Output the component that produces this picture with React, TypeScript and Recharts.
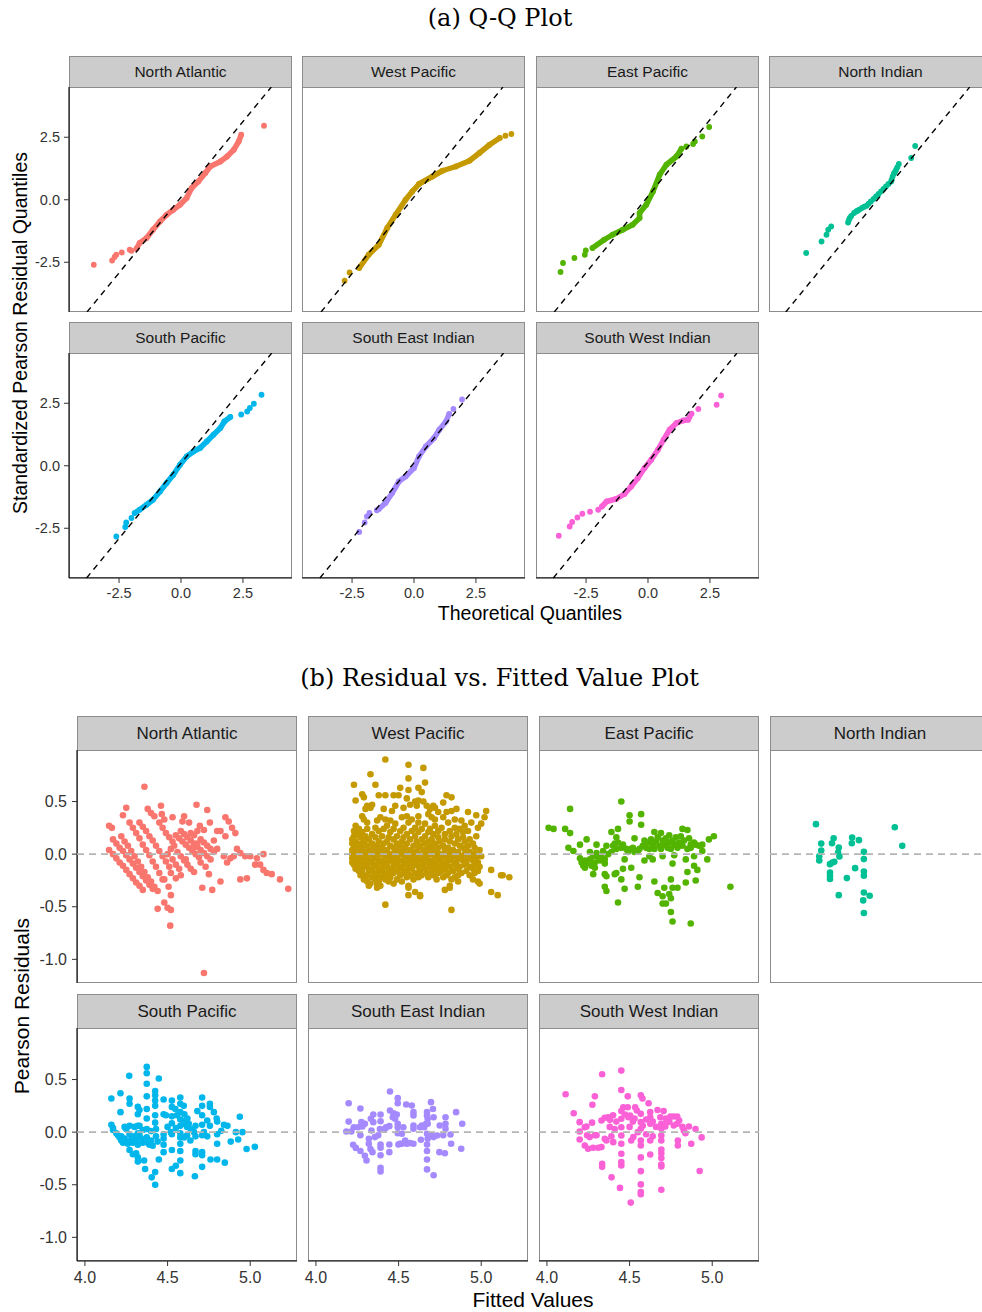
import React from 'react';
import { ScatterChart, Scatter, XAxis, YAxis, ReferenceLine } from 'recharts';

const SANS = '"Liberation Sans", Arial, Helvetica, sans-serif';
const SERIF = '"DejaVu Serif", "Liberation Serif", serif';

const regions = [
  'North Atlantic',
  'West Pacific',
  'East Pacific',
  'North Indian',
  'South Pacific',
  'South East Indian',
  'South West Indian',
];
const regionColors = ['#F8766D', '#C49A00', '#53B400', '#00C094', '#00B6EB', '#A58AFF', '#FB61D7'];

// ---- (a) Q-Q plot ----
const qqTicks = [-2.5, 0, 2.5];
const qqXDomain = [-4.52, 4.48];
const qqYDomain = [-4.49, 4.51];
const qqIntercepts = [0.1, 0.11, 0.14, 0.17, 0.1, 0.12, 0.15];
const qqSlopes = [1.21, 1.226, 1.224, 1.212, 1.204, 1.214, 1.214];

// [theoretical, sample] — the dense middle of each curve, then the loose tail points
const qqNorthAtlanticCore = [[-1.8, -1.96], [-1.67, -1.73], [-1.39, -1.53], [-1.13, -1.2], [-0.85, -0.87], [-0.58, -0.6], [-0.31, -0.4], [-0.04, -0.2], [0.23, 0.07], [0.43, 0.47], [0.7, 0.73], [0.98, 1.07], [1.18, 1.33], [1.59, 1.53], [1.86, 1.73], [2.13, 2.0], [2.33, 2.33], [2.43, 2.6]];
const qqNorthAtlanticTail = [[-3.52, -2.6], [-2.78, -2.43], [-2.68, -2.29], [-2.61, -2.2], [-2.39, -2.11], [-2.07, -2.0], [-2.0, -2.04], [3.35, 2.96]];
const qqWestPacificCore = [[-2.21, -2.73], [-1.83, -2.2], [-1.42, -1.8], [-1.08, -1.13], [-0.74, -0.6], [-0.34, 0.0], [-0.07, 0.33], [0.2, 0.63], [0.74, 0.93], [1.15, 1.16], [1.69, 1.33], [2.24, 1.56], [2.64, 1.87], [3.05, 2.2], [3.46, 2.47]];
const qqWestPacificTail = [[-2.8, -3.24], [-2.6, -2.91], [3.69, 2.56], [3.93, 2.63]];
const qqEastPacificCore = [[-2.24, -1.93], [-1.77, -1.6], [-1.43, -1.4], [-1.02, -1.2], [-0.62, -1.0], [-0.34, -0.73], [-0.34, -0.53], [-0.07, -0.2], [0.2, 0.33], [0.47, 1.0], [0.74, 1.4], [1.15, 1.73], [1.35, 2.04]];
const qqEastPacificTail = [[-3.53, -2.89], [-3.43, -2.53], [-2.97, -2.33], [-2.55, -2.2], [-2.51, -2.03], [1.55, 2.13], [1.82, 2.23], [1.89, 2.33], [2.19, 2.53], [2.47, 2.91]];
const qqNorthIndianCore: number[][] = [];
const qqNorthIndianTail = [[-3.02, -2.13], [-2.4, -1.67], [-2.2, -1.4], [-2.13, -1.2], [-2.01, -1.07], [-1.33, -0.91], [-1.3, -0.82], [-1.26, -0.73], [-1.2, -0.65], [-1.09, -0.53], [-1.0, -0.47], [-0.95, -0.44], [-0.88, -0.4], [-0.77, -0.33], [-0.68, -0.28], [-0.58, -0.24], [-0.5, -0.16], [-0.41, -0.07], [-0.3, 0.03], [-0.2, 0.13], [-0.1, 0.23], [0.0, 0.33], [0.1, 0.43], [0.2, 0.53], [0.3, 0.63], [0.41, 0.73], [0.43, 0.8], [0.47, 0.93], [0.52, 1.05], [0.56, 1.1], [0.61, 1.2], [0.66, 1.3], [0.72, 1.43], [1.22, 1.67], [1.38, 2.15]];
const qqSouthPacificCore = [[-1.87, -1.89], [-1.67, -1.76], [-1.39, -1.56], [-1.13, -1.36], [-0.85, -1.03], [-0.58, -0.69], [-0.31, -0.36], [-0.04, 0.04], [0.23, 0.37], [0.5, 0.57], [0.77, 0.71], [1.04, 0.97], [1.31, 1.24], [1.59, 1.51], [1.75, 1.77], [1.99, 1.95]];
const qqSouthPacificTail = [[-2.61, -2.83], [-2.25, -2.45], [-2.21, -2.27], [-2.0, -2.09], [2.43, 2.05], [2.67, 2.17], [2.78, 2.31], [2.94, 2.48], [3.25, 2.84]];
const qqSouthEastIndianCore = [[-1.5, -1.78], [-1.42, -1.73], [-1.15, -1.49], [-0.88, -1.09], [-0.61, -0.63], [-0.34, -0.43], [0.0, -0.09], [0.2, 0.37], [0.48, 0.77], [0.81, 1.11], [1.02, 1.44], [1.29, 1.77], [1.42, 2.07]];
const qqSouthEastIndianTail = [[-2.21, -2.65], [-1.99, -2.27], [-1.9, -2.03], [-1.8, -1.89], [1.59, 2.27], [1.94, 2.65]];
const qqSouthWestIndianCore = [[-1.86, -1.63], [-1.67, -1.43], [-1.29, -1.33], [-0.95, -1.13], [-0.68, -0.83], [-0.41, -0.49], [-0.14, -0.09], [0.13, 0.24], [0.4, 0.64], [0.63, 1.04], [0.87, 1.44], [1.15, 1.71], [1.42, 1.81], [1.62, 1.84]];
const qqSouthWestIndianTail = [[-3.6, -2.8], [-3.16, -2.43], [-3.06, -2.25], [-2.85, -2.07], [-2.65, -1.92], [-2.34, -1.84], [-2.01, -1.76], [1.68, 1.95], [1.76, 2.08], [2.03, 2.27], [2.77, 2.44], [2.95, 2.81]];

const qqCore = [qqNorthAtlanticCore, qqWestPacificCore, qqEastPacificCore, qqNorthIndianCore, qqSouthPacificCore, qqSouthEastIndianCore, qqSouthWestIndianCore];
const qqTail = [qqNorthAtlanticTail, qqWestPacificTail, qqEastPacificTail, qqNorthIndianTail, qqSouthPacificTail, qqSouthEastIndianTail, qqSouthWestIndianTail];

// ---- (b) residuals vs fitted ----
const residXTicks = [4.0, 4.5, 5.0];
const residYTicks = [-1.0, -0.5, 0.0, 0.5];
const residXDomain = [3.952, 5.283];
const residYDomain = [-1.225, 0.99];

// [fitted, residual]
const residNorthAtlantic = [
  [4.146, 0.04], [4.17, 0.0], [4.19, -0.04], [4.21, -0.08], [4.23, -0.11], [4.25, -0.15], [4.27, -0.19], [4.29, -0.23], [4.31, -0.27], [4.33, -0.3], [4.35, -0.34],
  [4.17, 0.14], [4.19, 0.1], [4.21, 0.06], [4.23, 0.03], [4.25, -0.01], [4.27, -0.05], [4.29, -0.09], [4.31, -0.13], [4.33, -0.17], [4.35, -0.21], [4.37, -0.25], [4.39, -0.29], [4.41, -0.33],
  [4.22, 0.17], [4.24, 0.12], [4.26, 0.08], [4.28, 0.03], [4.3, -0.02], [4.32, -0.07], [4.34, -0.12], [4.36, -0.17], [4.38, -0.22], [4.4, -0.26], [4.42, -0.31], [4.44, -0.35],
  [4.27, 0.3], [4.29, 0.25], [4.31, 0.2], [4.33, 0.15], [4.35, 0.09], [4.37, 0.04], [4.39, -0.01], [4.41, -0.07], [4.43, -0.12], [4.45, -0.18], [4.47, -0.24],
  [4.33, 0.3], [4.35, 0.26], [4.37, 0.22], [4.39, 0.17], [4.41, 0.13], [4.43, 0.08], [4.45, 0.03], [4.47, -0.02], [4.49, -0.07], [4.51, -0.12],
  [4.38, 0.43], [4.4, 0.39], [4.42, 0.36], [4.45, 0.3], [4.47, 0.25], [4.49, 0.2], [4.51, 0.16], [4.53, 0.12],
  [4.55, 0.18], [4.57, 0.15], [4.59, 0.12], [4.61, 0.09], [4.63, 0.06], [4.65, 0.03], [4.67, 0.0], [4.69, -0.03],
  [4.58, 0.22], [4.6, 0.19], [4.62, 0.16], [4.64, 0.13], [4.66, 0.1], [4.68, 0.07], [4.7, 0.04], [4.72, 0.01], [4.74, -0.02],
  [4.64, 0.2], [4.66, 0.18], [4.7, 0.14], [4.72, 0.11], [4.74, 0.08], [4.76, 0.05], [4.78, 0.02],
  [4.36, 0.64], [4.25, 0.44], [4.23, 0.37], [4.146, 0.27], [4.163, 0.25], [4.46, 0.46], [4.465, 0.38], [4.48, 0.33], [4.53, 0.35],
  [4.6, 0.36], [4.59, 0.31], [4.675, 0.47], [4.74, 0.42], [4.695, 0.27], [4.756, 0.3], [4.72, 0.23], [4.68, 0.22], [4.8, 0.22],
  [4.85, 0.35], [4.87, 0.31], [4.89, 0.25], [4.91, 0.2], [4.82, 0.22], [4.85, 0.17],
  [4.92, 0.05], [4.94, 0.01], [4.97, -0.02], [5.0, -0.02], [5.04, -0.04], [5.08, 0.0], [5.03, -0.1], [5.06, -0.1], [5.08, -0.15], [5.1, -0.18], [5.13, -0.19], [5.18, -0.24], [5.23, -0.33],
  [4.94, -0.24], [4.98, -0.23], [4.82, -0.26], [4.77, -0.34], [4.71, -0.32], [4.75, -0.19], [4.88, -0.04], [4.9, -0.02], [4.86, -0.08],
  [4.44, -0.52], [4.48, -0.46], [4.5, -0.51], [4.52, -0.53], [4.52, -0.39], [4.516, -0.68], [4.72, -1.13], [4.48, -0.24], [4.506, -0.31],
  [4.53, -0.05], [4.55, -0.1], [4.57, -0.14], [4.5, 0.0], [4.52, 0.05], [4.54, 0.08], [4.56, 0.02], [4.58, -0.02], [4.6, -0.06], [4.62, -0.1],
  [4.64, -0.14], [4.66, -0.17], [4.68, 0.1], [4.7, -0.08], [4.73, -0.12], [4.52, -0.18], [4.55, -0.23], [4.58, -0.2], [4.61, -0.05], [4.63, 0.3],
  [4.66, 0.06], [4.78, 0.13], [4.8, 0.05], [4.76, -0.05], [4.84, -0.02],
];

// West Pacific is dense, so it is kept as rows: [residual, fitted values at that level]
const residWestPacificRows: [number, number[]][] = [
  [0.9, [4.42]], [0.85, [4.56]], [0.82, [4.65]], [0.76, [4.33]], [0.72, [4.56]], [0.68, [4.66]],
  [0.66, [4.23, 4.36]], [0.63, [4.51, 4.62]], [0.61, [4.56]], [0.59, [4.64]], [0.57, [4.28]],
  [0.56, [4.38, 4.42, 4.47, 4.5, 4.79]], [0.54, [4.29, 4.82]], [0.53, [4.55]], [0.51, [4.24, 4.62]],
  [0.5, [4.6, 4.65]], [0.49, [4.77]], [0.47, [4.34, 4.57]], [0.46, [4.31, 4.48, 4.61, 4.67, 4.71]],
  [0.44, [4.33, 4.53, 4.72]], [0.43, [4.3, 4.41, 4.69, 4.85]], [0.41, [4.46, 4.82, 5.03]],
  [0.4, [4.74, 4.79, 4.92]], [0.38, [4.68]], [0.37, [4.97]], [0.36, [4.28, 4.55, 4.62]],
  [0.35, [4.39, 4.52, 4.7, 4.77, 5.02]], [0.33, [4.29, 4.42, 4.58, 4.72, 4.84]], [0.32, [4.37, 4.45, 4.88]],
  [0.3, [4.31, 4.56, 4.62, 4.8, 4.94]], [0.29, [4.48, 4.66, 5.0]], [0.27, [4.24, 4.43, 4.72, 4.9]],
  [0.25, [4.36, 4.53, 4.6, 4.76, 4.84, 4.98]], [0.24, [4.26, 4.31, 4.41, 4.47, 4.64, 4.69, 4.87]],
  [0.22, [4.23, 4.38, 4.51, 4.58, 4.74, 4.81, 4.92]], [0.21, [4.28, 4.45, 4.62, 4.68, 4.89]],
  [0.19, [4.25, 4.34, 4.55, 4.71, 4.78, 4.85]], [0.17, [4.23, 4.3, 4.4, 4.49, 4.6, 4.66, 4.82, 4.97]],
  [0.16, [4.27, 4.36, 4.44, 4.53, 4.74, 4.89]], [0.14, [4.22, 4.32, 4.47, 4.57, 4.64, 4.7, 4.78, 4.86, 4.93]],
  [0.12, [4.24, 4.29, 4.38, 4.43, 4.52, 4.61, 4.68, 4.75, 4.81, 4.9]],
  [0.1, [4.22, 4.27, 4.34, 4.41, 4.49, 4.55, 4.66, 4.72, 4.84, 4.95]],
  [0.08, [4.25, 4.31, 4.37, 4.45, 4.51, 4.59, 4.63, 4.7, 4.77, 4.87, 4.92]],
  [0.06, [4.23, 4.28, 4.35, 4.4, 4.47, 4.54, 4.62, 4.68, 4.74, 4.8, 4.89, 4.96]],
  [0.04, [4.22, 4.26, 4.32, 4.38, 4.43, 4.5, 4.57, 4.65, 4.71, 4.78, 4.83, 4.91, 4.99]],
  [0.02, [4.24, 4.3, 4.36, 4.41, 4.48, 4.53, 4.6, 4.67, 4.73, 4.81, 4.86, 4.93]],
  [0.0, [4.22, 4.27, 4.33, 4.39, 4.45, 4.51, 4.56, 4.62, 4.69, 4.75, 4.79, 4.85, 4.9, 4.96]],
  [-0.02, [4.23, 4.29, 4.35, 4.42, 4.47, 4.54, 4.59, 4.65, 4.72, 4.77, 4.83, 4.88, 4.94, 5.0]],
  [-0.04, [4.22, 4.26, 4.31, 4.37, 4.44, 4.49, 4.56, 4.61, 4.67, 4.74, 4.8, 4.86, 4.92, 4.97]],
  [-0.06, [4.24, 4.28, 4.34, 4.4, 4.46, 4.52, 4.58, 4.64, 4.7, 4.76, 4.82, 4.89, 4.95]],
  [-0.08, [4.22, 4.27, 4.32, 4.38, 4.43, 4.49, 4.55, 4.61, 4.68, 4.73, 4.79, 4.85, 4.91, 4.98]],
  [-0.1, [4.23, 4.29, 4.35, 4.41, 4.47, 4.53, 4.59, 4.65, 4.71, 4.77, 4.84, 4.9, 4.96]],
  [-0.12, [4.25, 4.31, 4.37, 4.43, 4.5, 4.56, 4.62, 4.69, 4.75, 4.81, 4.87, 4.93, 4.99]],
  [-0.14, [4.24, 4.28, 4.34, 4.4, 4.46, 4.52, 4.58, 4.66, 4.72, 4.78, 4.86, 4.95]],
  [-0.15, [5.06]],
  [-0.16, [4.26, 4.32, 4.38, 4.44, 4.49, 4.55, 4.63, 4.7, 4.76, 4.83, 4.91, 4.98]],
  [-0.18, [4.28, 4.35, 4.41, 4.47, 4.53, 4.6, 4.67, 4.74, 4.8, 4.88, 4.96]],
  [-0.2, [4.27, 4.31, 4.37, 4.43, 4.51, 4.57, 4.64, 4.71, 4.79, 4.86, 4.93, 5.12, 5.13]],
  [-0.22, [4.3, 4.34, 4.4, 4.45, 4.55, 4.62, 4.68, 4.77, 4.84, 5.17]],
  [-0.24, [4.29, 4.36, 4.42, 4.49, 4.59, 4.73, 4.82, 4.95]],
  [-0.26, [4.31, 4.38, 4.44, 4.52, 4.86, 4.98]],
  [-0.28, [4.33, 4.37, 4.47, 4.99]],
  [-0.3, [4.32, 4.39, 4.56, 4.81]],
  [-0.32, [4.37, 4.56, 4.81]],
  [-0.34, [4.78]],
  [-0.36, [4.6, 5.06]],
  [-0.39, [4.56, 4.63, 5.1]],
  [-0.4, [4.63]],
  [-0.48, [4.42]],
  [-0.53, [4.82]],
];

const residEastPacific = [
  [4.01, 0.25], [4.04, 0.24], [4.11, 0.24], [4.14, 0.2], [4.14, 0.43], [4.13, 0.06], [4.16, 0.03],
  [4.2, 0.09], [4.2, -0.04], [4.21, -0.08], [4.22, -0.11], [4.23, -0.06], [4.23, -0.13], [4.24, -0.09], [4.26, -0.05], [4.26, 0.02],
  [4.27, -0.11], [4.28, -0.09], [4.28, -0.02], [4.29, -0.08], [4.29, -0.13], [4.3, 0.01], [4.31, -0.03], [4.32, -0.06], [4.33, -0.02],
  [4.34, 0.03], [4.35, -0.09], [4.35, -0.05], [4.36, 0.08], [4.37, 0.0], [4.39, 0.02], [4.4, 0.08], [4.41, 0.1], [4.42, 0.05],
  [4.43, 0.11], [4.45, 0.06], [4.46, 0.09], [4.48, 0.05], [4.49, 0.02], [4.51, 0.05], [4.52, 0.06], [4.53, 0.02], [4.55, 0.03], [4.56, 0.05],
  [4.24, 0.14], [4.3, 0.09], [4.39, 0.21], [4.43, 0.24], [4.42, 0.16], [4.45, 0.5], [4.5, 0.37], [4.5, 0.31], [4.57, 0.38], [4.57, 0.28],
  [4.53, 0.15], [4.65, 0.21], [4.69, 0.2], [4.85, 0.23], [4.98, 0.14], [5.01, 0.17],
  [4.28, -0.19], [4.35, -0.19], [4.36, -0.21], [4.35, -0.31], [4.36, -0.35], [4.43, -0.46], [4.41, -0.19], [4.42, -0.18], [4.46, -0.14],
  [4.45, -0.24], [4.47, -0.33], [4.47, -0.05], [4.51, -0.13], [4.56, -0.22], [4.55, -0.31], [4.59, -0.06], [4.64, -0.05], [4.65, -0.26],
  [4.67, -0.37], [4.7, -0.4], [4.7, -0.47], [4.71, -0.32], [4.72, -0.47], [4.74, -0.38], [4.75, -0.42], [4.75, -0.24], [4.75, -0.55],
  [4.76, -0.64], [4.76, -0.09], [4.76, -0.32], [4.79, -0.32], [4.84, -0.27], [4.85, -0.17], [4.84, -0.05], [4.87, -0.66], [4.89, -0.02],
  [4.89, -0.11], [4.9, -0.25], [4.91, -0.15], [4.97, -0.05], [5.11, -0.31],
  [4.58, 0.08], [4.59, 0.13], [4.6, 0.06], [4.61, 0.11], [4.62, 0.05], [4.63, 0.14], [4.64, 0.09], [4.65, 0.05], [4.66, 0.12], [4.67, 0.16],
  [4.68, 0.08], [4.69, 0.05], [4.7, 0.13], [4.71, 0.09], [4.72, 0.15], [4.73, 0.06], [4.74, 0.18], [4.74, 0.11], [4.75, 0.05], [4.76, 0.13],
  [4.77, 0.09], [4.78, 0.16], [4.79, 0.06], [4.8, 0.11], [4.81, 0.17], [4.82, 0.08], [4.83, 0.13], [4.85, 0.05], [4.86, 0.15], [4.87, 0.09],
  [4.87, 0.06], [4.89, 0.11], [4.9, 0.09], [4.92, 0.08], [4.94, 0.03], [4.94, 0.09], [4.82, 0.24], [4.62, -0.02], [4.7, -0.02], [4.77, -0.01],
];

const residNorthIndian = [
  [4.23, 0.285], [4.262, 0.1], [4.262, 0.035], [4.25, -0.02], [4.25, -0.06], [4.337, 0.15], [4.327, 0.104], [4.368, 0.063],
  [4.364, 0.016], [4.372, -0.022], [4.341, -0.073], [4.33, -0.08], [4.315, -0.095], [4.315, -0.174], [4.315, -0.206], [4.315, -0.237],
  [4.368, -0.39], [4.417, -0.228], [4.449, 0.158], [4.447, 0.104], [4.49, 0.133], [4.467, -0.133], [4.52, 0.022], [4.52, -0.047],
  [4.52, -0.165], [4.52, -0.206], [4.52, -0.364], [4.555, -0.396], [4.516, -0.44], [4.52, -0.56], [4.707, 0.256], [4.752, 0.079],
];

const residSouthPacific = [
  [4.16, 0.32], [4.16, 0.07], [4.17, 0.04], [4.17, 0.02], [4.215, 0.37], [4.215, 0.19],
  [4.19, -0.01], [4.2, -0.03], [4.21, -0.05], [4.22, -0.08], [4.23, -0.1], [4.22, -0.04], [4.24, -0.06], [4.25, -0.09], [4.26, -0.11],
  [4.24, 0.05], [4.25, 0.03], [4.27, -0.02], [4.28, -0.07], [4.29, -0.1], [4.3, -0.04], [4.31, -0.08], [4.32, -0.12], [4.33, -0.03],
  [4.34, -0.06], [4.35, -0.1], [4.3, 0.05], [4.33, 0.06], [4.35, 0.02],
  [4.268, 0.535], [4.27, 0.32], [4.27, 0.27], [4.27, 0.06], [4.27, -0.17], [4.29, -0.21],
  [4.32, 0.24], [4.33, 0.21], [4.32, 0.17], [4.32, 0.06], [4.32, -0.01], [4.32, -0.24], [4.32, -0.28], [4.31, -0.2],
  [4.358, -0.27], [4.364, -0.35],
  [4.374, 0.62], [4.374, 0.56], [4.374, 0.46], [4.374, 0.34], [4.374, 0.22], [4.374, 0.13], [4.374, 0.03], [4.374, -0.05],
  [4.38, -0.1], [4.39, -0.12], [4.4, -0.08], [4.41, -0.13], [4.4, 0.01],
  [4.404, -0.43], [4.425, -0.38], [4.425, -0.5],
  [4.447, 0.51], [4.425, 0.39], [4.425, 0.35], [4.425, 0.3], [4.425, 0.25], [4.425, 0.16], [4.425, 0.09], [4.43, 0.03], [4.43, -0.04], [4.44, -0.09],
  [4.447, -0.26], [4.476, 0.31], [4.476, 0.17], [4.49, 0.16], [4.476, -0.02], [4.476, -0.06], [4.476, -0.12], [4.476, -0.19],
  [4.526, 0.3], [4.526, 0.24], [4.526, 0.15], [4.526, 0.085], [4.526, -0.02], [4.526, -0.17], [4.526, -0.35], [4.547, 0.22], [4.557, 0.16], [4.55, -0.32],
  [4.577, 0.33], [4.577, 0.27], [4.577, 0.19], [4.577, 0.12], [4.577, 0.06], [4.577, -0.01], [4.577, -0.05], [4.577, -0.11], [4.577, -0.18], [4.577, -0.27], [4.577, -0.39],
  [4.598, 0.25], [4.602, 0.17], [4.608, 0.11], [4.618, 0.05], [4.618, -0.03], [4.628, 0.08], [4.638, -0.08],
  [4.665, -0.42], [4.669, 0.06], [4.669, -0.04], [4.669, -0.18], [4.669, -0.21],
  [4.709, 0.33], [4.709, 0.25], [4.709, 0.16], [4.709, 0.07], [4.709, -0.03], [4.709, -0.19], [4.709, -0.22], [4.709, -0.33],
  [4.74, 0.11], [4.756, 0.06], [4.756, 0.27], [4.756, 0.24], [4.76, -0.26],
  [4.78, 0.19], [4.797, 0.13], [4.8, 0.1], [4.8, -0.02], [4.8, -0.11], [4.8, -0.26],
  [4.825, 0.013], [4.841, 0.07], [4.846, -0.29], [4.862, 0.06], [4.882, -0.09], [4.913, 0.0], [4.927, -0.07], [4.937, 0.146], [4.953, 0.0], [4.978, -0.16], [5.028, -0.14],
  [4.64, 0.03], [4.6, -0.05], [4.66, 0.0], [4.72, 0.0], [4.74, -0.04], [4.62, 0.13], [4.68, 0.2], [4.5, 0.05], [4.52, 0.0], [4.55, 0.04], [4.6, 0.08],
];

const residSouthEastIndian = [
  [4.198, 0.275], [4.198, 0.1], [4.184, 0.006], [4.214, 0.006], [4.229, 0.047], [4.269, 0.225], [4.269, -0.03], [4.225, -0.12],
  [4.241, -0.15], [4.269, -0.18], [4.281, 0.054], [4.296, 0.08], [4.296, -0.225], [4.306, -0.27], [4.32, -0.063], [4.32, -0.11],
  [4.33, -0.16], [4.342, -0.19], [4.332, 0.127], [4.347, 0.095], [4.347, 0.168], [4.377, -0.03], [4.387, 0.03], [4.391, 0.168],
  [4.391, 0.104], [4.391, -0.117], [4.391, -0.149], [4.391, -0.22], [4.391, -0.34], [4.391, -0.373], [4.424, 0.047], [4.444, 0.057],
  [4.448, 0.386], [4.448, 0.206], [4.469, 0.18], [4.489, 0.168], [4.444, -0.117], [4.444, -0.19], [4.465, 0.142], [4.479, 0.127],
  [4.495, 0.323], [4.495, 0.275], [4.495, 0.08], [4.495, 0.047], [4.495, -0.01], [4.499, -0.117], [4.509, -0.11], [4.529, 0.047],
  [4.546, 0.263], [4.58, 0.253], [4.55, -0.11], [4.57, -0.104], [4.59, 0.19], [4.59, 0.158], [4.59, 0.063], [4.59, 0.032],
  [4.59, -0.11], [4.635, -0.073], [4.641, 0.063], [4.655, 0.047], [4.667, 0.08], [4.672, 0.19], [4.672, 0.158], [4.676, 0.127],
  [4.676, 0.08], [4.672, -0.016], [4.676, -0.063], [4.672, -0.117], [4.672, -0.18], [4.672, -0.26], [4.672, -0.354], [4.696, 0.285],
  [4.708, 0.22], [4.712, 0.142], [4.712, -0.41], [4.712, -0.047], [4.733, -0.032], [4.749, 0.063], [4.747, -0.19], [4.78, -0.2],
  [4.784, 0.142], [4.784, 0.08], [4.784, 0.032], [4.814, -0.022], [4.818, -0.11], [4.848, 0.19], [4.879, -0.158], [4.885, 0.08],
  [4.255, 0.047], [4.275, 0.095], [4.336, 0.016], [4.357, -0.047], [4.418, 0.032], [4.52, -0.016], [4.54, -0.08], [4.63, 0.047],
  [4.7, -0.032], [4.77, -0.03], [4.52, -0.11],
];

const residSouthWestIndian = [
  [4.113, 0.36], [4.162, 0.18], [4.198, 0.095], [4.198, 0.006], [4.198, -0.07],
  [4.229, 0.047], [4.239, 0.054], [4.243, -0.03], [4.259, -0.047], [4.29, -0.03], [4.3, -0.03],
  [4.229, -0.127], [4.249, -0.158], [4.279, -0.149], [4.31, -0.149], [4.33, -0.142],
  [4.275, 0.26], [4.29, 0.34], [4.273, 0.09], [4.334, 0.55],
  [4.33, 0.11], [4.35, 0.136], [4.371, 0.142], [4.381, 0.117],
  [4.334, -0.3], [4.334, -0.33], [4.35, -0.063], [4.36, -0.079], [4.391, -0.43], [4.401, -0.095], [4.442, -0.53],
  [4.45, 0.585], [4.45, 0.4], [4.45, 0.2], [4.45, 0.127], [4.45, 0.047], [4.45, -0.032], [4.45, -0.11], [4.45, -0.206], [4.45, -0.285], [4.45, -0.316],
  [4.462, 0.237], [4.472, 0.168], [4.493, 0.142], [4.489, 0.34], [4.489, 0.237], [4.503, 0.158],
  [4.507, -0.67], [4.523, -0.047], [4.534, 0.237], [4.544, 0.206],
  [4.568, 0.35], [4.578, 0.32], [4.568, 0.174], [4.568, 0.095], [4.568, 0.032], [4.568, -0.079], [4.568, -0.127], [4.568, -0.24],
  [4.568, -0.371], [4.568, -0.497], [4.568, -0.57], [4.568, -0.591],
  [4.615, 0.275], [4.625, 0.19], [4.625, 0.142], [4.625, 0.079], [4.625, -0.079], [4.625, -0.212],
  [4.669, 0.21], [4.686, 0.142], [4.692, 0.079], [4.692, 0.032], [4.692, -0.032], [4.692, -0.079], [4.692, -0.165], [4.692, -0.2],
  [4.692, -0.247], [4.692, -0.307], [4.692, -0.326], [4.692, -0.547],
  [4.706, 0.2], [4.716, 0.054], [4.727, 0.095], [4.747, 0.149], [4.767, 0.149], [4.788, 0.149], [4.788, 0.08], [4.767, 0.063],
  [4.792, -0.079], [4.792, -0.127], [4.828, 0.016], [4.838, -0.01], [4.859, 0.054], [4.873, -0.11], [4.899, 0.03], [4.924, -0.37], [4.936, -0.05],
  [4.5, 0.05], [4.52, 0.1], [4.55, 0.0], [4.58, 0.06], [4.6, 0.12], [4.64, 0.1], [4.66, 0.05], [4.72, 0.13], [4.74, 0.1], [4.8, 0.11],
  [4.82, 0.05], [4.51, -0.08], [4.53, 0.13], [4.6, -0.02], [4.64, -0.04], [4.42, 0.1], [4.41, 0.03], [4.39, -0.04], [4.4, 0.16], [4.38, 0.05],
];

const residWestPacific = residWestPacificRows.flatMap(([y, xs]) => xs.map((x) => [x, y]));
const residPoints = [residNorthAtlantic, residWestPacific, residEastPacific, residNorthIndian, residSouthPacific, residSouthEastIndian, residSouthWestIndian];

type Pt = { x: number; y: number };
const toPts = (rows: number[][]): Pt[] => rows.map(([x, y]) => ({ x, y }));

// clip y = a + b*x to the panel box so the dashed line spans it edge to edge
function clipLine(a: number, b: number, xd: number[], yd: number[]) {
  const x0 = Math.max(xd[0], (yd[0] - a) / b);
  const x1 = Math.min(xd[1], (yd[1] - a) / b);
  return [{ x: x0, y: a + b * x0 }, { x: x1, y: a + b * x1 }];
}

const fmt = (v: number) => v.toFixed(1);

// small filled dot, ggplot-style
const dot = (r: number, fill: string) => (props: any) =>
  <circle cx={props.cx} cy={props.cy} r={r} fill={fill} />;

interface PanelProps {
  left: number;
  top: number;
  w: number;
  h: number;
  stripH: number;
  stripFont: number;
  tickFont: number;
  xMargin: number;
  yMargin: number;
  title: string;
  showX: boolean;
  showY: boolean;
  xDomain: number[];
  yDomain: number[];
  xTicks: number[];
  yTicks: number[];
  children: React.ReactNode;
}

function Panel(p: PanelProps) {
  const yW = p.showY ? 60 : 0;
  // room on the left for the first x tick label when there is no y axis
  const padL = p.showY ? 0 : 24;
  const xH = p.showX ? 34 : 0;
  return (
    <>
      <div
        style={{
          position: 'absolute',
          left: p.left,
          top: p.top - p.stripH,
          width: p.w,
          height: p.stripH + 1,
          boxSizing: 'border-box',
          background: '#CCCCCC',
          border: '1px solid #8C8C8C',
          display: 'flex',
          alignItems: 'center',
          justifyContent: 'center',
          fontSize: p.stripFont,
          color: '#1A1A1A',
          whiteSpace: 'nowrap',
        }}
      >
        {p.title}
      </div>
      <div
        style={{
          position: 'absolute',
          left: p.left,
          top: p.top,
          width: p.w,
          height: p.h,
          boxSizing: 'border-box',
          border: '1px solid #8C8C8C',
        }}
      />
      <div style={{ position: 'absolute', left: p.left - yW - padL, top: p.top }}>
        <ScatterChart width={p.w + yW + padL} height={p.h + xH} margin={{ top: 0, right: 0, bottom: 0, left: padL }}>
          <XAxis
            type="number"
            dataKey="x"
            domain={p.xDomain}
            allowDataOverflow
            ticks={p.xTicks}
            interval={0}
            tickFormatter={fmt}
            hide={!p.showX}
            height={xH}
            tickSize={5}
            tickMargin={p.xMargin}
            axisLine={{ stroke: '#000', strokeWidth: 1.1 }}
            tickLine={{ stroke: '#333' }}
            tick={{ fontSize: p.tickFont, fill: '#333' }}
          />
          <YAxis
            type="number"
            dataKey="y"
            domain={p.yDomain}
            allowDataOverflow
            ticks={p.yTicks}
            interval={0}
            tickFormatter={fmt}
            hide={!p.showY}
            width={yW}
            tickSize={5}
            tickMargin={p.yMargin}
            axisLine={{ stroke: '#000', strokeWidth: 1.1 }}
            tickLine={{ stroke: '#333' }}
            tick={{ fontSize: p.tickFont, fill: '#333' }}
          />
          {p.children}
        </ScatterChart>
      </div>
    </>
  );
}

const qqCols = [69, 302, 536, 769];
const qqRows = [87, 353];
const resCols = [77, 308, 539, 770];
const resRows = [750, 1028];

export default function App() {
  return (
    <div
      style={{
        position: 'absolute',
        left: 0,
        top: 0,
        width: 982,
        height: 1312,
        overflow: 'hidden',
        background: '#fff',
        fontFamily: SANS,
        color: '#000',
      }}
    >
      <div style={{ position: 'absolute', left: 0, top: 3, width: 1000, textAlign: 'center', fontFamily: SERIF, fontSize: 24, lineHeight: '30px' }}>
        (a) Q-Q Plot
      </div>

      {regions.map((name, i) => {
        const row = i < 4 ? 0 : 1;
        const col = i < 4 ? i : i - 4;
        const seg = clipLine(qqIntercepts[i], qqSlopes[i], qqXDomain, qqYDomain);
        const color = regionColors[i];
        return (
          <Panel
            key={'qq' + name}
            left={qqCols[col]}
            top={qqRows[row]}
            w={223}
            h={225}
            stripH={31}
            stripFont={15.5}
            tickFont={14.5}
            xMargin={5}
            yMargin={4}
            title={name}
            showX={row === 1}
            showY={col === 0}
            xDomain={qqXDomain}
            yDomain={qqYDomain}
            xTicks={qqTicks}
            yTicks={qqTicks}
          >
            {qqCore[i].length > 0 && (
              <Scatter
                data={toPts(qqCore[i])}
                fill={color}
                shape={dot(2.9, color)}
                line={{ stroke: color, strokeWidth: 5.5, strokeLinecap: 'round', strokeLinejoin: 'round' }}
                lineType="joint"
                isAnimationActive={false}
              />
            )}
            <Scatter data={toPts(qqTail[i])} fill={color} shape={dot(2.9, color)} isAnimationActive={false} />
            <ReferenceLine
              segment={seg}
              stroke="#000"
              strokeWidth={1.4}
              strokeDasharray="6 5"
              ifOverflow="visible"
              zIndex={700}
            />
          </Panel>
        );
      })}

      <div style={{ position: 'absolute', left: 330, top: 600, width: 400, textAlign: 'center', fontSize: 19.5, lineHeight: '26px' }}>
        Theoretical Quantiles
      </div>
      <div
        style={{
          position: 'absolute',
          left: 20 - 250,
          top: 332.5 - 13,
          width: 500,
          height: 26,
          lineHeight: '26px',
          textAlign: 'center',
          fontSize: 19.5,
          transform: 'rotate(-90deg)',
        }}
      >
        Standardized Pearson Residual Quantiles
      </div>

      <div style={{ position: 'absolute', left: 0, top: 663, width: 999, textAlign: 'center', fontFamily: SERIF, fontSize: 24, lineHeight: '30px' }}>
        (b) Residual vs. Fitted Value Plot
      </div>

      {regions.map((name, i) => {
        const row = i < 4 ? 0 : 1;
        const col = i < 4 ? i : i - 4;
        return (
          <Panel
            key={'res' + name}
            left={resCols[col]}
            top={resRows[row]}
            w={220}
            h={233}
            stripH={34}
            stripFont={17}
            tickFont={16}
            xMargin={6}
            yMargin={5}
            title={name}
            showX={row === 1}
            showY={col === 0}
            xDomain={residXDomain}
            yDomain={residYDomain}
            xTicks={residXTicks}
            yTicks={residYTicks}
          >
            <Scatter
              data={toPts(residPoints[i])}
              fill={regionColors[i]}
              shape={dot(3.3, regionColors[i])}
              isAnimationActive={false}
            />
            <ReferenceLine y={0} stroke="#B5B5B5" strokeWidth={1.7} strokeDasharray="7 5" ifOverflow="visible" zIndex={700} />
          </Panel>
        );
      })}

      <div style={{ position: 'absolute', left: 333, top: 1286, width: 400, textAlign: 'center', fontSize: 21, lineHeight: '28px' }}>
        Fitted Values
      </div>
      <div
        style={{
          position: 'absolute',
          left: 22 - 200,
          top: 1005.5 - 14,
          width: 400,
          height: 28,
          lineHeight: '28px',
          textAlign: 'center',
          fontSize: 21,
          transform: 'rotate(-90deg)',
        }}
      >
        Pearson Residuals
      </div>
    </div>
  );
}
